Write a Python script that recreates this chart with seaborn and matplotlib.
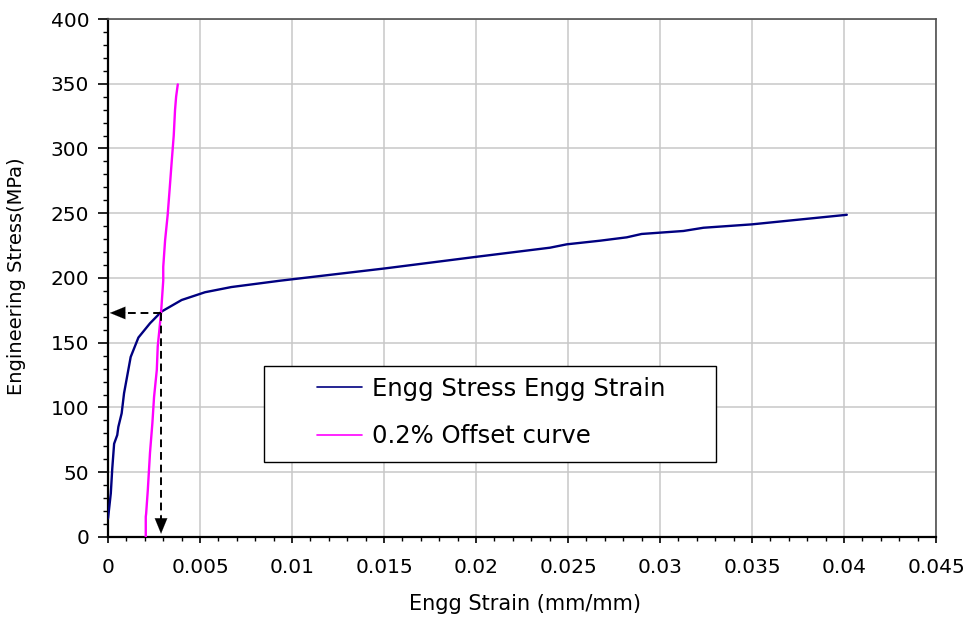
import matplotlib
matplotlib.use("Agg")
import matplotlib.pyplot as plt
from matplotlib.patches import Rectangle
from matplotlib.ticker import MultipleLocator
import numpy as np
import pandas as pd
import seaborn as sns

# ---- data ----
engg_strain = [0.0, 0.00015, 0.00023, 0.00033, 0.0005, 0.00056, 0.00074, 0.00087,
               0.00123, 0.00165, 0.00228, 0.0029, 0.004, 0.00527, 0.0067, 0.00935,
               0.01505, 0.02004, 0.02402, 0.02493, 0.02674, 0.02819, 0.029, 0.03127,
               0.03236, 0.03498, 0.04015]
engg_stress = [14.4, 33.7, 53.0, 72.0, 78.7, 85.0, 95.5, 111.0,
               139.0, 154.0, 165.0, 174.0, 183.0, 189.0, 193.0, 197.9,
               207.4, 216.4, 223.4, 226.0, 228.8, 231.4, 234.0, 236.3,
               238.8, 241.4, 248.8]

offset_strain = [0.00205, 0.00205, 0.00207, 0.00216, 0.00228, 0.00241, 0.0025, 0.00265,
                 0.0027, 0.00288, 0.0030, 0.0030, 0.0031, 0.00324, 0.00335, 0.00346,
                 0.00357, 0.00364, 0.0037, 0.00379]
offset_stress = [0.0, 15.6, 18.0, 36.0, 65.0, 88.0, 108.0, 129.0,
                 147.0, 173.0, 198.0, 208.6, 229.0, 248.6, 269.0, 290.0,
                 310.0, 329.6, 340.0, 349.5]

yield_strain = 0.00288
yield_stress = 173.0
arrow_tip_strain = 0.0001
arrow_tip_stress = 2.5

series_names = ["Engg Stress Engg Strain", "0.2% Offset curve"]
x_ticks = [0, 0.005, 0.01, 0.015, 0.02, 0.025, 0.03, 0.035, 0.04, 0.045]
x_tick_labels = ["0", "0.005", "0.01", "0.015", "0.02", "0.025", "0.03", "0.035", "0.04", "0.045"]
y_ticks = [0, 50, 100, 150, 200, 250, 300, 350, 400]

# ---- plotting ----
sns.set_style("white")
plt.rcParams["font.family"] = ["DejaVu Sans"]
plt.rcParams["text.color"] = "black"
plt.rcParams["axes.labelcolor"] = "black"
plt.rcParams["xtick.color"] = "black"
plt.rcParams["ytick.color"] = "black"

fig = plt.figure(figsize=(9.69, 6.17), dpi=100)
ax = fig.add_axes([0.1115, 0.1297, 0.8545, 0.8395])

df1 = pd.DataFrame({"strain": engg_strain, "stress": engg_stress, "series": series_names[0]})
df2 = pd.DataFrame({"strain": offset_strain, "stress": offset_stress, "series": series_names[1]})

sns.lineplot(data=df1, x="strain", y="stress", sort=False, estimator=None,
             color="#000080", lw=1.7, ax=ax, label=series_names[0], zorder=3)
sns.lineplot(data=df2, x="strain", y="stress", sort=False, estimator=None,
             color="#ff00ff", lw=1.7, ax=ax, label=series_names[1], zorder=3)

# dashed guide lines + arrow heads
ax.plot([yield_strain, arrow_tip_strain + 0.0008], [yield_stress, yield_stress],
        ls=(0, (4, 2.5)), color="black", lw=1.4, zorder=4)
ax.plot([yield_strain, yield_strain], [yield_stress, arrow_tip_stress + 10],
        ls=(0, (4, 2.5)), color="black", lw=1.4, zorder=4)
ax.annotate("", xy=(arrow_tip_strain, yield_stress),
            xytext=(arrow_tip_strain + 0.0009, yield_stress),
            arrowprops=dict(arrowstyle="-|>,head_length=1.1,head_width=0.45",
                            color="black", lw=0.1, shrinkA=0, shrinkB=0), zorder=4)
ax.annotate("", xy=(yield_strain, arrow_tip_stress),
            xytext=(yield_strain, arrow_tip_stress + 15),
            arrowprops=dict(arrowstyle="-|>,head_length=1.1,head_width=0.45",
                            color="black", lw=0.1, shrinkA=0, shrinkB=0), zorder=4)

ax.set_xlim(0, 0.045)
ax.set_ylim(0, 400)
ax.set_xticks(x_ticks)
ax.set_xticklabels(x_tick_labels)
ax.set_yticks(y_ticks)
ax.xaxis.set_minor_locator(MultipleLocator(0.001))
ax.yaxis.set_minor_locator(MultipleLocator(10))

ax.grid(True, which="major", color="#c8c8c8", lw=1.1, zorder=0)
ax.set_axisbelow(True)

ax.tick_params(axis="x", which="major", direction="out", length=4.5, width=1.2,
               color="black", labelcolor="black", labelsize=14.5, pad=10.5, bottom=True)
ax.tick_params(axis="x", which="minor", direction="out", length=3, width=1.0,
               color="black", bottom=True)
ax.tick_params(axis="y", which="major", direction="out", length=7, width=1.2,
               color="black", labelcolor="black", labelsize=14.5, pad=6.5, left=True)
ax.tick_params(axis="y", which="minor", direction="out", length=3.6, width=1.0,
               color="black", left=True)

for side in ["left", "bottom"]:
    ax.spines[side].set_color("black")
    ax.spines[side].set_linewidth(1.6)
for side in ["top", "right"]:
    ax.spines[side].set_color("#505050")
    ax.spines[side].set_linewidth(1.2)

ax.set_xlabel("Engg Strain (mm/mm)", fontsize=15, color="black")
ax.set_ylabel("Engineering Stress(MPa)", fontsize=14, color="black")
ax.xaxis.set_label_coords(0.5036, -0.11)
ax.yaxis.set_label_coords(-0.099, 0.504)

# legend box
rect = Rectangle((0.1884, 0.1448), 0.5456, 0.1859, transform=ax.transAxes,
                 facecolor="white", edgecolor="black", lw=1.0, zorder=5)
ax.add_patch(rect)
leg = ax.legend(loc="center left", bbox_to_anchor=(0.2524, 0.2403), frameon=False,
                fontsize=17.5, borderpad=0, borderaxespad=0, handlelength=1.85,
                handletextpad=0.4, labelspacing=0.95)
for line in leg.get_lines():
    line.set_linewidth(1.2)
for t in leg.get_texts():
    t.set_color("black")
leg.set_zorder(6)

fig.savefig("out.png", dpi=100)
